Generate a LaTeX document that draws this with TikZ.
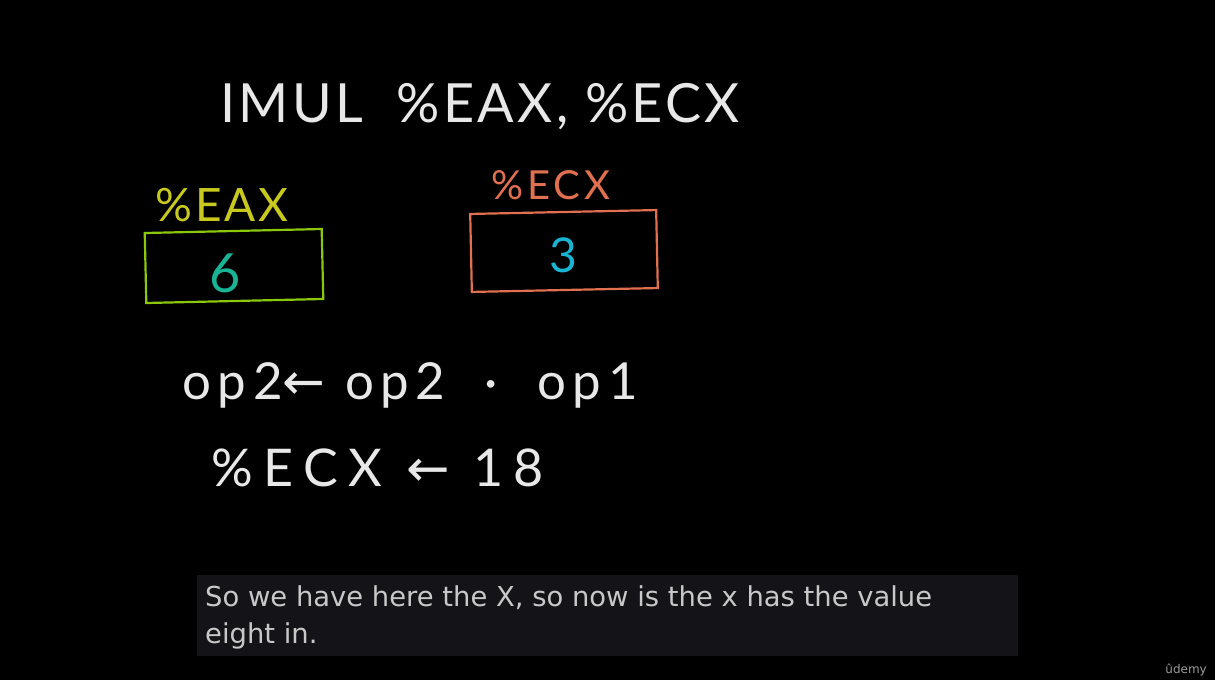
\documentclass[tikz,border=0pt]{standalone}
\usepackage{fontspec}
\setmainfont{Lato}
\newfontfamily\dv{DejaVu Sans}
\newfontfamily\handA[LetterSpace=6]{Lato}
\newfontfamily\handB[LetterSpace=10]{Lato}
\newfontfamily\handC[LetterSpace=13]{Lato}
\newfontfamily\handD[LetterSpace=20]{Lato}
\definecolor{bg}{HTML}{000000}
\definecolor{chalk}{HTML}{E8E8E8}
\definecolor{eaxlbl}{HTML}{C8C81E}
\definecolor{eaxbox}{HTML}{8CC80A}
\definecolor{six}{HTML}{19B496}
\definecolor{ecxcol}{HTML}{E0704F}
\definecolor{three}{HTML}{19B4D2}
\definecolor{capbg}{HTML}{131318}
\definecolor{captxt}{HTML}{C8C8C8}
\definecolor{logo}{HTML}{9A9A9A}
\tikzset{
  hand/.style={text=chalk, inner sep=0pt, anchor=center},
  regbox/.style={draw, line width=2.2pt, inner sep=0pt},
  captext/.style={anchor=base west, inner sep=0pt, text=captxt, font=\dv\fontsize{27.4}{30}\selectfont},
}
\begin{document}
\begin{tikzpicture}[x=1pt,y=-1pt]
\fill[bg] (0,0) rectangle (1215,680);
\useasboundingbox (0,0) rectangle (1215,680);
% title
\node[hand, font=\handA\fontsize{54}{60}\selectfont] (title) at (480,107) {IMUL\ \ \%EAX, \%ECX};
% EAX register
\node[hand, text=eaxlbl, font=\handA\fontsize{46}{50}\selectfont] (eaxl) at (222,205) {\%EAX};
\node[regbox, draw=eaxbox, minimum width=177pt, minimum height=70pt, rotate=1.3] (eaxb) at (234,266) {};
\node[hand, text=six, font=\fontsize{54}{60}\selectfont] (six) at (225,273) {6};
% ECX register
\node[hand, text=ecxcol, font=\handB\fontsize{40}{44}\selectfont] (ecxl) at (551,185) {\%ECX};
\node[regbox, draw=ecxcol, minimum width=186pt, minimum height=78pt, rotate=1.2] (ecxb) at (564,251) {};
\node[hand, text=three, font=\fontsize{48}{52}\selectfont] (three) at (563,255) {3};
% formulas
\node[hand, font=\handC\fontsize{51}{55}\selectfont] (op) at (410,385) {op2{\dv ←} op2 \ · \ op1};
\node[hand, font=\handD\fontsize{52}{56}\selectfont] (res) at (378,468) {\%ECX {\dv ←} 18};
% caption
\fill[capbg] (197,575) rectangle (1018,656);
\node[captext] (cap1) at (205,606) {So we have here the X, so now is the x has the value};
\node[captext] (cap2) at (205,643) {eight in.};
\node[anchor=base east, inner sep=0pt, text=logo, font=\dv\fontsize{12}{14}\selectfont] (logo) at (1207,673) {ûdemy};
\end{tikzpicture}
\end{document}
